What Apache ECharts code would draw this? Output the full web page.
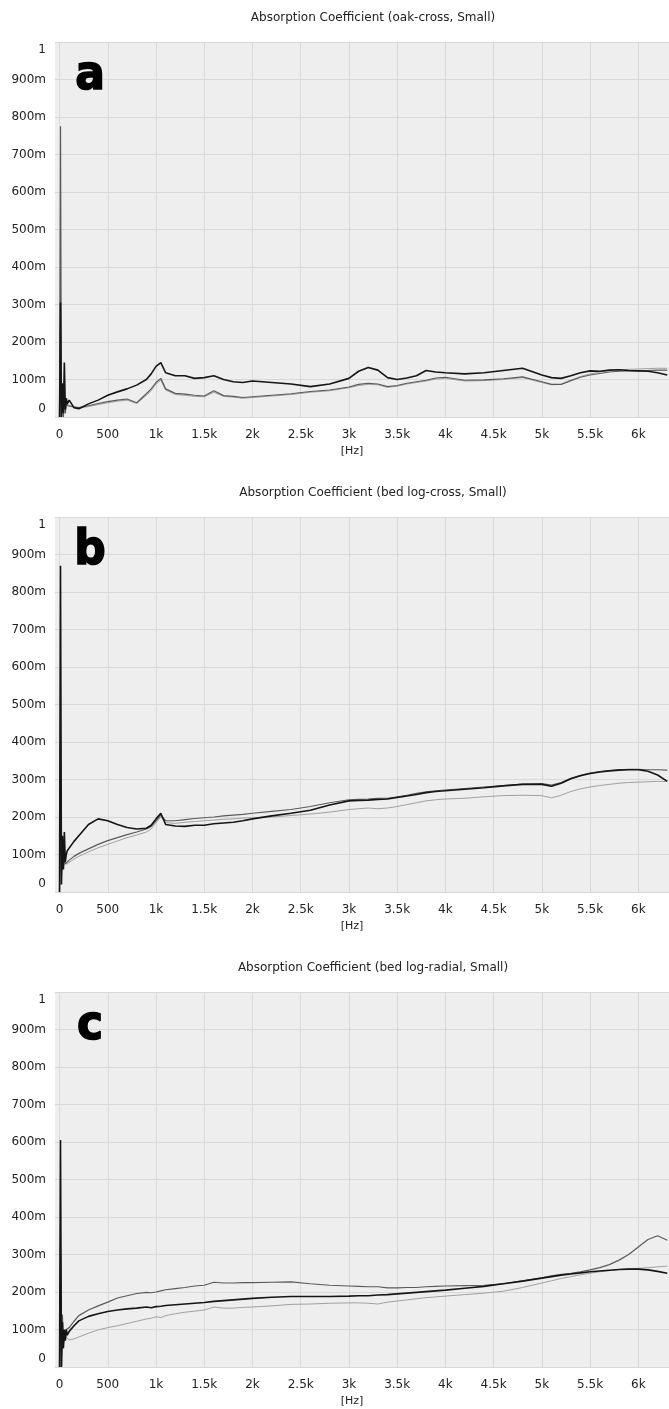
<!DOCTYPE html>
<html>
<head>
<meta charset="utf-8">
<script src="https://cdn.jsdelivr.net/npm/echarts@6/dist/echarts.min.js"></script>
<style>
html,body{margin:0;padding:0;background:#fff;}
#chart{width:669px;height:1409px;}
</style>
</head>
<body>
<div id="chart"></div>
<script>
// Frequencies (Hz) shared by all curves
const freq = [0,10,20,30,40,50,60,70,80,100,150,200,300,400,500,600,700,800,900,950,1000,1050,1100,1200,1300,1400,1500,1600,1700,1800,1900,2000,2200,2400,2600,2800,3000,3100,3200,3300,3400,3500,3600,3700,3800,3900,4000,4200,4400,4600,4800,5000,5100,5200,5300,5400,5500,5600,5700,5800,5900,6000,6100,6200,6300];

// Panel a: oak-cross
const aBlack = [0,0.305,0,0.09,0.01,0.145,0.02,0.05,0.035,0.045,0.025,0.022,0.035,0.045,0.058,0.067,0.075,0.085,0.1,0.115,0.135,0.145,0.118,0.11,0.11,0.103,0.105,0.11,0.1,0.094,0.092,0.096,0.092,0.088,0.081,0.088,0.103,0.122,0.132,0.125,0.105,0.1,0.104,0.11,0.124,0.12,0.118,0.115,0.118,0.124,0.13,0.112,0.105,0.103,0.11,0.118,0.123,0.122,0.125,0.126,0.124,0.123,0.122,0.118,0.112];
const aGray  = [0,0.775,0,0.05,0,0.06,0.01,0.04,0.03,0.035,0.027,0.025,0.03,0.036,0.041,0.045,0.048,0.038,0.062,0.075,0.092,0.103,0.075,0.063,0.061,0.058,0.056,0.07,0.057,0.055,0.052,0.054,0.058,0.062,0.068,0.072,0.08,0.087,0.09,0.088,0.081,0.084,0.09,0.094,0.098,0.104,0.106,0.098,0.099,0.102,0.107,0.094,0.087,0.087,0.097,0.106,0.112,0.116,0.12,0.122,0.123,0.123,0.124,0.125,0.125];
const aLight = [0,0.2,0,0.04,0,0.05,0.01,0.035,0.03,0.032,0.025,0.023,0.028,0.033,0.038,0.042,0.045,0.036,0.058,0.07,0.088,0.098,0.072,0.06,0.058,0.055,0.054,0.066,0.055,0.053,0.05,0.052,0.056,0.06,0.066,0.07,0.078,0.084,0.087,0.086,0.079,0.082,0.088,0.092,0.096,0.101,0.103,0.096,0.097,0.1,0.105,0.092,0.086,0.087,0.098,0.108,0.115,0.12,0.124,0.126,0.127,0.128,0.129,0.13,0.13];

// Panel b: bed log-cross
const bBlack = [0,0.87,0.02,0.15,0.06,0.16,0.08,0.1,0.11,0.115,0.135,0.15,0.18,0.195,0.19,0.18,0.172,0.168,0.17,0.178,0.195,0.21,0.18,0.176,0.175,0.178,0.178,0.182,0.184,0.186,0.19,0.195,0.203,0.21,0.218,0.232,0.243,0.244,0.245,0.247,0.248,0.252,0.256,0.26,0.265,0.268,0.27,0.274,0.278,0.283,0.287,0.287,0.282,0.29,0.302,0.31,0.316,0.32,0.323,0.325,0.326,0.326,0.322,0.312,0.295];
const bGray  = [0,0.4,0.05,0.1,0.07,0.09,0.075,0.078,0.08,0.085,0.095,0.103,0.115,0.127,0.137,0.145,0.153,0.16,0.168,0.175,0.19,0.205,0.19,0.19,0.193,0.196,0.198,0.2,0.203,0.205,0.207,0.21,0.215,0.22,0.228,0.238,0.246,0.247,0.248,0.25,0.25,0.254,0.258,0.263,0.267,0.27,0.272,0.276,0.28,0.284,0.288,0.289,0.285,0.292,0.303,0.311,0.317,0.321,0.324,0.326,0.327,0.327,0.326,0.326,0.325];
const bLight = [0,0.3,0.04,0.09,0.065,0.075,0.07,0.072,0.075,0.08,0.088,0.095,0.107,0.118,0.127,0.136,0.145,0.152,0.16,0.168,0.185,0.2,0.185,0.183,0.186,0.188,0.19,0.192,0.194,0.195,0.197,0.198,0.2,0.204,0.208,0.213,0.22,0.222,0.224,0.222,0.224,0.228,0.233,0.238,0.243,0.246,0.248,0.25,0.254,0.257,0.258,0.257,0.251,0.258,0.268,0.275,0.28,0.284,0.287,0.29,0.292,0.293,0.294,0.295,0.295];

// Panel c: bed log-radial
const cBlack = [0,0.605,0,0.12,0.05,0.1,0.07,0.1,0.085,0.095,0.11,0.123,0.135,0.142,0.148,0.152,0.155,0.157,0.16,0.158,0.161,0.162,0.164,0.166,0.168,0.17,0.172,0.175,0.177,0.179,0.181,0.183,0.186,0.188,0.188,0.188,0.189,0.19,0.19,0.192,0.193,0.195,0.197,0.199,0.201,0.203,0.205,0.21,0.215,0.222,0.229,0.237,0.241,0.245,0.248,0.251,0.254,0.256,0.258,0.26,0.261,0.261,0.259,0.255,0.25];
const cGray  = [0,0.3,0,0.14,0.06,0.09,0.08,0.1,0.095,0.105,0.122,0.137,0.152,0.163,0.173,0.184,0.19,0.196,0.199,0.198,0.2,0.203,0.206,0.209,0.212,0.216,0.218,0.226,0.224,0.224,0.225,0.225,0.226,0.227,0.222,0.218,0.216,0.215,0.214,0.214,0.211,0.211,0.212,0.212,0.214,0.215,0.216,0.217,0.218,0.222,0.23,0.238,0.243,0.247,0.25,0.254,0.259,0.265,0.273,0.285,0.3,0.32,0.34,0.35,0.338];
const cLight = [0,0.2,0.02,0.08,0.05,0.09,0.085,0.08,0.075,0.072,0.075,0.08,0.09,0.099,0.105,0.11,0.116,0.122,0.128,0.13,0.134,0.132,0.137,0.142,0.146,0.149,0.152,0.16,0.157,0.157,0.159,0.16,0.163,0.167,0.168,0.17,0.171,0.171,0.17,0.168,0.173,0.176,0.179,0.182,0.185,0.187,0.189,0.193,0.197,0.202,0.212,0.224,0.23,0.236,0.241,0.246,0.25,0.254,0.257,0.26,0.262,0.263,0.265,0.267,0.269];

const titles = ['Absorption Coefficient (oak-cross, Small)','Absorption Coefficient (bed log-cross, Small)','Absorption Coefficient (bed log-radial, Small)'];
const letters = ['a','b','c'];
const xTicks = [0,500,1000,1500,2000,2500,3000,3500,4000,4500,5000,5500,6000];
const xUnit = '[Hz]';

const panels = [
  {black:aBlack, gray:aGray, light:aLight},
  {black:bBlack, gray:bGray, light:bLight},
  {black:cBlack, gray:cGray, light:cLight}
];

const FONT = 'DejaVu Sans';
const tops = [42, 517, 992];
const plotH = 375;

const grids = [], xAxes = [], yAxes = [], series = [], titleArr = [], graphics = [];
function pairs(vals){ return freq.map((f,i)=>[f, vals[i]]); }

panels.forEach((p, i) => {
  grids.push({left:55, width:614, top:tops[i], height:plotH, show:true, backgroundColor:'#eeeeee', borderWidth:0});
  xAxes.push({
    type:'value', gridIndex:i, min:-47, max:6318,
    name:xUnit, nameLocation:'middle', nameGap:29,
    nameTextStyle:{fontFamily:FONT, fontSize:11, color:'#222', padding:[0,20,0,0]},
    axisLine:{show:false},
    axisTick:{show:false, customValues:xTicks},
    axisLabel:{customValues:xTicks, margin:12, fontFamily:FONT, fontSize:12, color:'#222',
      formatter:v => v < 1000 ? String(v) : (v/1000) + 'k'},
    splitLine:{show:true, lineStyle:{color:'#d8d8d8', width:1}}
  });
  yAxes.push({
    type:'value', gridIndex:i, min:0, max:1, interval:0.1,
    axisLine:{show:false}, axisTick:{show:false},
    axisLabel:{margin:9, fontFamily:FONT, fontSize:12, color:'#222',
      formatter:v => {
        if (v < 0.001) return '{b|0}';
        if (v > 0.999) return '{t|1}';
        return Math.round(v*1000) + 'm';
      },
      rich:{
        t:{fontFamily:FONT, fontSize:12, color:'#222', padding:[16,0,0,0]},
        b:{fontFamily:FONT, fontSize:12, color:'#222', padding:[0,0,16,0]}
      }
    },
    splitLine:{show:true, lineStyle:{color:'#d8d8d8', width:1}}
  });
  series.push({type:'line', xAxisIndex:i, yAxisIndex:i, data:pairs(p.light), showSymbol:false, symbol:'none', silent:true,
    lineStyle:{color:'#a0a0a0', width:1}});
  series.push({type:'line', xAxisIndex:i, yAxisIndex:i, data:pairs(p.gray), showSymbol:false, symbol:'none', silent:true,
    lineStyle:{color:'#5a5a5a', width:1.2}});
  series.push({type:'line', xAxisIndex:i, yAxisIndex:i, data:pairs(p.black), showSymbol:false, symbol:'none', silent:true,
    lineStyle:{color:'#151515', width:1.6}});
  titleArr.push({text:titles[i], left:368, top:tops[i]-35, textAlign:'center',
    textStyle:{fontFamily:FONT, fontSize:12, fontWeight:'normal', color:'#222'}});
  graphics.push({type:'text', x:90, y:tops[i]+34, scaleY:1.1, z:100,
    style:{text:letters[i], font:'bold 44px "DejaVu Sans"', fill:'#000', stroke:'#000', lineWidth:1.5,
      textAlign:'center', textVerticalAlign:'middle'}});
});

const chart = echarts.init(document.getElementById('chart'), null, {renderer:'canvas'});
chart.setOption({
  animation:false,
  backgroundColor:'#ffffff',
  title:titleArr,
  grid:grids, xAxis:xAxes, yAxis:yAxes, series:series,
  graphic:graphics
});
</script>
</body>
</html>
